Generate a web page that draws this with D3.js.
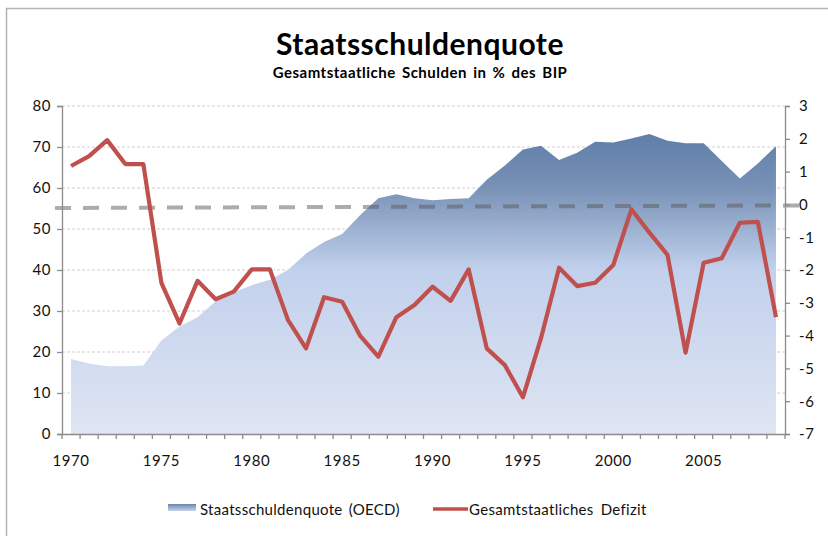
<!DOCTYPE html>
<html>
<head>
<meta charset="utf-8">
<script src="https://cdn.jsdelivr.net/npm/d3@7"></script>
<style>
  body { margin: 0; background: #fff; }
  svg { font-family: Lato, "Open Sans", sans-serif; }
</style>
</head>
<body>
<div id="chart"></div>
<script>
const years = d3.range(1970, 2010);
const debt = [18.3, 17.2, 16.5, 16.5, 16.7, 22.8, 26.2, 28.5, 32.4, 34.6,
  36.3, 37.6, 40.0, 44.0, 46.8, 48.8, 53.4, 57.5, 58.5, 57.5,
  57.0, 57.3, 57.5, 62.0, 65.5, 69.4, 70.3, 66.8, 68.6, 71.3,
  71.1, 72.1, 73.2, 71.5, 70.9, 70.9, 66.6, 62.3, 66.0, 70.2];
const deficit = [1.17, 1.47, 1.96, 1.23, 1.23, -2.39, -3.63, -2.33, -2.89, -2.66,
  -1.98, -1.98, -3.52, -4.39, -2.83, -2.97, -4.01, -4.64, -3.44, -3.07,
  -2.51, -2.94, -1.98, -4.39, -4.90, -5.88, -4.08, -1.93, -2.49, -2.39,
  -1.85, -0.15, -0.86, -1.54, -4.52, -1.78, -1.64, -0.56, -0.53, -3.44];
const leftTicks = [0, 10, 20, 30, 40, 50, 60, 70, 80];
const rightTicks = [3, 2, 1, 0, -1, -2, -3, -4, -5, -6, -7];
const yearLabels = [1970, 1975, 1980, 1985, 1990, 1995, 2000, 2005];
const zeroLine = [-0.11, -0.03]; // dashed reference, left end / right end

const width = 828, height = 536;
const m = { l: 62, r: 785, t: 106, b: 434 };

const svg = d3.select("#chart").append("svg").attr("width", width).attr("height", height);

// frame
svg.append("rect").attr("x", 6.5).attr("y", 8.5).attr("width", width).attr("height", height)
  .attr("fill", "none").attr("stroke", "#b3b3b3").attr("stroke-width", 1.5);

const x = d3.scaleBand().domain(years).range([m.l, m.r]);
const cx = (d) => x(d) + x.bandwidth() / 2;
const yL = d3.scaleLinear().domain([0, 80]).range([m.b, m.t]);
const yR = d3.scaleLinear().domain([-7, 3]).range([m.b, m.t]);

const defs = svg.append("defs");
const grad = defs.append("linearGradient").attr("id", "areaGrad")
  .attr("x1", 0).attr("y1", 0).attr("x2", 0).attr("y2", 1);
grad.append("stop").attr("offset", "0%").attr("stop-color", "#5f7ea8");
grad.append("stop").attr("offset", "18%").attr("stop-color", "#7892b6");
grad.append("stop").attr("offset", "45%").attr("stop-color", "#c1d0ec");
grad.append("stop").attr("offset", "100%").attr("stop-color", "#dfe5f3");

// gridlines
svg.append("g").selectAll("line").data(leftTicks.filter((d) => d > 0)).join("line")
  .attr("x1", m.l).attr("x2", m.r)
  .attr("y1", (d) => yL(d)).attr("y2", (d) => yL(d))
  .attr("stroke", "#d0d0d0").attr("stroke-dasharray", "3,2");

// area
const area = d3.area().x((d, i) => cx(years[i])).y0(yL(0)).y1((d) => yL(d));
svg.append("path").datum(debt).attr("d", area).attr("fill", "url(#areaGrad)");

// dashed zero reference
svg.append("line")
  .attr("x1", m.l - 7).attr("x2", m.r + 15)
  .attr("y1", yR(zeroLine[0])).attr("y2", yR(zeroLine[1]))
  .attr("stroke", "rgba(90,90,90,0.5)").attr("stroke-width", 4)
  .attr("stroke-dasharray", "16,12");

// deficit line
const line = d3.line().x((d, i) => cx(years[i])).y((d) => yR(d));
svg.append("path").datum(deficit).attr("d", line)
  .attr("fill", "none").attr("stroke", "#c0504d").attr("stroke-width", 4.2)
  .attr("stroke-linejoin", "round");

// axes
const axisColor = "#8c8c8c";
const leftAxis = svg.append("g").attr("transform", `translate(${m.l},0)`)
  .call(d3.axisLeft(yL).tickValues(leftTicks).tickSize(5).tickPadding(6));
const rightAxis = svg.append("g").attr("transform", `translate(${m.r},0)`)
  .call(d3.axisRight(yR).tickValues(rightTicks).tickSize(5).tickPadding(9));
const bottomAxis = svg.append("g").attr("transform", `translate(0,${m.b})`)
  .call(d3.axisBottom(x).tickValues([]).tickSizeOuter(0));
bottomAxis.selectAll("line.tk").data(d3.range(years.length + 1)).join("line")
  .attr("class", "tk")
  .attr("x1", (i) => m.l + i * x.bandwidth()).attr("x2", (i) => m.l + i * x.bandwidth())
  .attr("y1", 0).attr("y2", 5);
bottomAxis.selectAll("text.yl").data(yearLabels).join("text")
  .attr("class", "yl")
  .attr("x", (d) => cx(d)).attr("y", 32)
  .attr("text-anchor", "middle").text((d) => d);

[leftAxis, rightAxis, bottomAxis].forEach((g) => {
  g.selectAll("path, line").attr("stroke", axisColor).attr("stroke-width", 1.3);
  g.selectAll("text").attr("font-size", 15).attr("fill", "#111")
    .attr("letter-spacing", 0.6).attr("font-family", "Lato, sans-serif");
});
rightAxis.selectAll("text").text((d) => d);

// titles
svg.append("text").attr("x", 420).attr("y", 55).attr("text-anchor", "middle")
  .attr("font-size", 30).attr("font-weight", "bold").attr("fill", "#000")
  .attr("letter-spacing", 0.5)
  .text("Staatsschuldenquote");
svg.append("text").attr("x", 420).attr("y", 78).attr("text-anchor", "middle")
  .attr("font-size", 15).attr("font-weight", "bold").attr("fill", "#000")
  .attr("letter-spacing", 0.5).attr("word-spacing", 2)
  .text("Gesamtstaatliche Schulden in % des BIP");

// legend
const lg = svg.append("g").attr("transform", "translate(0,510)");
const lgGrad = defs.append("linearGradient").attr("id", "lgGrad")
  .attr("x1", 0).attr("y1", 0).attr("x2", 0).attr("y2", 1);
lgGrad.append("stop").attr("offset", "0%").attr("stop-color", "#6a86ad");
lgGrad.append("stop").attr("offset", "100%").attr("stop-color", "#c8d4ec");
lg.append("rect").attr("x", 168).attr("y", -6).attr("width", 28).attr("height", 7).attr("fill", "url(#lgGrad)");
lg.append("text").attr("x", 200).attr("y", 5).attr("font-size", 15).attr("fill", "#111")
  .attr("letter-spacing", 0.3).attr("word-spacing", 2)
  .text("Staatsschuldenquote (OECD)");
lg.append("line").attr("x1", 433).attr("x2", 468).attr("y1", -1).attr("y2", -1)
  .attr("stroke", "#c0504d").attr("stroke-width", 3.5);
lg.append("text").attr("x", 469).attr("y", 5).attr("font-size", 15).attr("fill", "#111")
  .attr("letter-spacing", 0.3).attr("word-spacing", 3)
  .text("Gesamtstaatliches Defizit");
</script>
</body>
</html>
